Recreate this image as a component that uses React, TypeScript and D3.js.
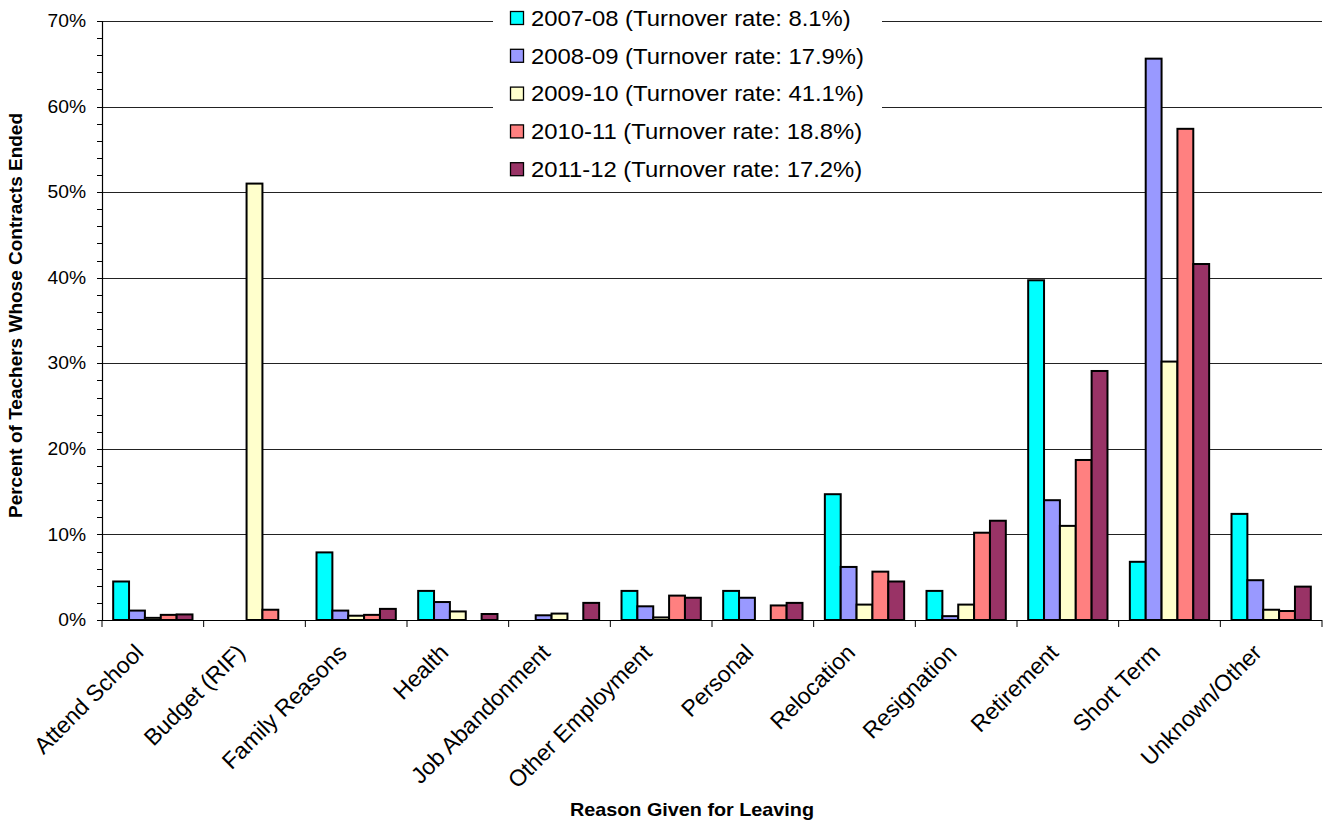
import React from "react";
import * as d3 from "d3";

const categories = [
  "Attend School",
  "Budget (RIF)",
  "Family Reasons",
  "Health",
  "Job Abandonment",
  "Other Employment",
  "Personal",
  "Relocation",
  "Resignation",
  "Retirement",
  "Short Term",
  "Unknown/Other",
];

const seriesNames = [
  "2007-08 (Turnover rate: 8.1%)",
  "2008-09 (Turnover rate: 17.9%)",
  "2009-10 (Turnover rate: 41.1%)",
  "2010-11 (Turnover rate: 18.8%)",
  "2011-12 (Turnover rate: 17.2%)",
];

const s2007 = [4.5, 0, 7.9, 3.4, 0, 3.4, 3.4, 14.7, 3.4, 39.7, 6.8, 12.4];
const s2008 = [1.1, 0, 1.1, 2.1, 0.55, 1.6, 2.6, 6.2, 0.45, 14.0, 65.6, 4.65];
const s2009 = [0.25, 51.0, 0.5, 1.0, 0.75, 0.3, 0, 1.8, 1.8, 11.0, 30.2, 1.2];
const s2010 = [0.6, 1.2, 0.6, 0, 0, 2.85, 1.7, 5.65, 10.2, 18.7, 57.4, 1.05];
const s2011 = [0.65, 0, 1.3, 0.7, 2.0, 2.6, 2.0, 4.5, 11.6, 29.1, 41.6, 3.9];

const seriesValues = [s2007, s2008, s2009, s2010, s2011];
const colors = ["#00FFFF", "#9999FF", "#FFFFCC", "#FF8080", "#993366"];

const yTicks = [0, 10, 20, 30, 40, 50, 60, 70];

const W = 1323;
const H = 827;
const FONT = "'Liberation Sans', Arial, sans-serif";

export default function App() {
  const left = 102;
  const right = 1322;
  const top = 21;
  const bottom = 620;

  const x0 = d3
    .scaleBand<string>()
    .domain(categories)
    .range([left, right])
    .paddingInner(0.22)
    .paddingOuter(0.11);
  const x1 = d3
    .scaleBand<string>()
    .domain(seriesNames)
    .range([0, x0.bandwidth()])
    .padding(0);
  const y = d3.scaleLinear().domain([0, 70]).range([bottom, top]);
  const minorTicks = d3.range(0, 70.001, 2);
  const step = x0.step();
  const boundaries = d3.range(0, categories.length + 1).map((i) => left + i * step);

  return (
    <svg
      width={W}
      height={H}
      style={{ position: "absolute", left: 0, top: 0, background: "#fff" }}
      fontFamily={FONT}
    >
      <rect x={0} y={0} width={W} height={H} fill="#fff" />
      {/* gridlines */}
      {yTicks.slice(1).map((t) => (
        <line
          key={"g" + t}
          x1={left}
          x2={right}
          y1={Math.round(y(t)) + 0.5}
          y2={Math.round(y(t)) + 0.5}
          stroke="#222"
          strokeWidth={1}
        />
      ))}
      {/* bars */}
      {categories.map((c, ci) => (
        <g key={c}>
          {seriesNames.map((s, si) => {
            const v = seriesValues[si][ci];
            if (!v) return null;
            const bx = (x0(c) as number) + (x1(s) as number);
            return (
              <rect
                key={s}
                x={bx}
                y={y(v)}
                width={x1.bandwidth()}
                height={y(0) - y(v)}
                fill={colors[si]}
                stroke="#000"
                strokeWidth={2}
              />
            );
          })}
        </g>
      ))}
      {/* y axis */}
      <line x1={left + 0.5} x2={left + 0.5} y1={top} y2={bottom} stroke="#000" strokeWidth={1.2} />
      {minorTicks.map((t) => (
        <line
          key={"m" + t}
          x1={left - 5}
          x2={left}
          y1={Math.round(y(t)) + 0.5}
          y2={Math.round(y(t)) + 0.5}
          stroke="#000"
          strokeWidth={1}
        />
      ))}
      {yTicks.map((t) => (
        <text
          key={"yl" + t}
          transform={`translate(${left - 16},${y(t)}) scale(1.1,1)`}
          textAnchor="end"
          dominantBaseline="central"
          fontSize={17.5}
          fill="#000"
        >
          {t + "%"}
        </text>
      ))}
      {/* x axis */}
      <line x1={left} x2={right} y1={bottom + 0.5} y2={bottom + 0.5} stroke="#000" strokeWidth={1.2} />
      {boundaries.map((bx, i) => (
        <line
          key={"xt" + i}
          x1={bx}
          x2={bx}
          y1={bottom}
          y2={bottom + 7}
          stroke="#000"
          strokeWidth={1}
        />
      ))}
      {categories.map((c) => {
        const cx = (x0(c) as number) + x0.bandwidth() / 2;
        return (
          <text
            key={"xl" + c}
            transform={`translate(${cx - 8},${bottom + 34}) rotate(-45)`}
            textAnchor="end"
            fontSize={23}
            fill="#000"
          >
            {c}
          </text>
        );
      })}
      {/* axis titles */}
      <text
        transform={`translate(22,${(top + bottom) / 2 - 5}) rotate(-90)`}
        textAnchor="middle"
        fontSize={19}
        fontWeight="bold"
        fill="#000"
      >
        Percent of Teachers Whose Contracts Ended
      </text>
      <text
        transform={`translate(692,816) scale(1.1,1)`}
        textAnchor="middle"
        fontSize={18}
        fontWeight="bold"
        fill="#000"
      >
        Reason Given for Leaving
      </text>
      {/* legend */}
      <rect x={493} y={0} width={389} height={188} fill="#fff" />
      {seriesNames.map((s, i) => {
        const cy = 18 + i * 37.8;
        return (
          <g key={"lg" + s}>
            <rect
              x={510.5}
              y={cy - 6.5}
              width={13}
              height={13}
              fill={colors[i]}
              stroke="#000"
              strokeWidth={1.3}
            />
            <text
              transform={`translate(531,${cy}) scale(1.06,1)`}
              dominantBaseline="central"
              fontSize={22.5}
              fill="#000"
            >
              {s}
            </text>
          </g>
        );
      })}
    </svg>
  );
}
